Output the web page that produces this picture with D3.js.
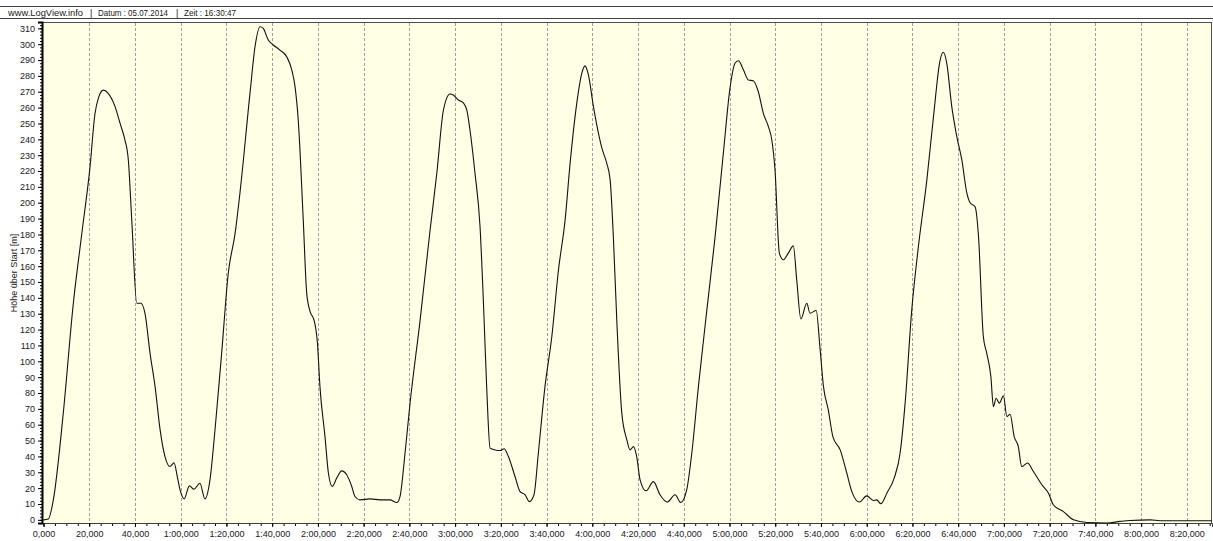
<!DOCTYPE html>
<html>
<head>
<meta charset="utf-8">
<script src="https://cdn.jsdelivr.net/npm/d3@7"></script>
<style>
  body { margin: 0; background: #fff; }
  svg { display: block; font-family: "Liberation Sans", Arial, sans-serif; }
</style>
</head>
<body>
<div id="chart-area"></div>
<script>
// DATA --------------------------------------------------------
var headerParts = ["www.LogView.info", "|", "Datum : 05.07.2014", "|", "Zeit : 16:30:47"];
var yTitle = "Höhe über Start [m]";

// time in seconds
var timeSec = [0, 2.1, 4.3, 8.7, 13, 16.7, 20.3, 22.5, 24, 26.2, 28.3, 31.3, 33.5, 35.6, 37.1, 38.6, 40.8, 42.6, 44.4, 46.6,
  48.8, 51, 53.1, 55.3, 57.1, 58.5, 59.7, 61.5, 63.8, 65.8, 68.4, 70.6, 72.8, 75, 77.9, 80.8, 83.8, 85.9, 90.3, 92.5,
  94.7, 96.1, 98.3, 100.5, 103.4, 106.4, 108.6, 110, 111.4, 113.6, 115.1, 116.6, 118.3, 119.8, 120.9, 123.1, 124.6, 126.3, 128.2, 130.4,
  132.6, 134.8, 136.2, 138.4, 142.8, 147.2, 151.5, 154.5, 155.9, 158.1, 160.3, 164.7, 169, 172, 174.9, 177.8, 179.2, 181.4, 183.6, 185.1,
  186.5, 188.7, 190.9, 192.4, 193.8, 195.3, 197.5, 199.7, 201.4, 203.3, 206.2, 208.4, 210.6, 212.5, 214.5, 216.4, 219.3, 222.3, 225.2, 228.1,
  230.3, 233.2, 235.4, 236.8, 238.3, 240.5, 242.7, 244.2, 246.3, 247.8, 249.2, 250.7, 252.9, 255.1, 256.5, 258, 259.4, 260.9, 263.5, 266.7,
  269.6, 272.8, 276.2, 278.7, 281.3, 283.5, 286.4, 290.1, 293.7, 297.3, 300.3, 302.4, 303.9, 306.1, 308.3, 310.4, 312.6, 314.8, 317, 318.5,
  319.9, 321.8, 323.6, 325.7, 327.9, 329.4, 331.2, 333.8, 335.2, 337.9, 339.6, 341.1, 343.2, 345.2, 348.4, 351.3, 353.5, 356.8, 360, 362.9,
  364.4, 366.2, 368.8, 372, 374.6, 376.8, 379.7, 382.6, 386.3, 389.2, 392.1, 393.5, 395, 397.2, 399.4, 401.6, 403.8, 405.2, 407.4, 408.9,
  411, 412.5, 414.3, 415.4, 416.6, 418, 419.8, 421.3, 422.7, 424.5, 426.3, 427.8, 430.3, 432.9, 436.6, 439.5, 441.6, 446, 450.4, 456.3,
  465, 470.8, 475.2, 484, 488.3, 494.1, 511];

// height above start in metres
var heightM = [0, 0.5, 12.6, 68, 136, 180, 222, 256, 266, 271, 269, 260.6, 250, 239.6, 227, 189, 136.6, 136.6, 130, 105,
  84, 56.7, 40, 33.6, 36, 27.3, 19, 13.2, 21.4, 19.3, 23.1, 13.2, 25.2, 56.7, 105, 155.5, 180.8, 206, 269, 298.4,
  311, 310, 302.6, 299.5, 296.3, 292, 283.7, 273.2, 252.2, 189, 143, 131.3, 126, 111.4, 84, 52.5, 29.4, 21, 26.3, 30.9,
  28.4, 21, 14.7, 12.6, 13.2, 12.6, 12.6, 10.9, 14.7, 42, 73.6, 126, 182, 218.6, 258.5, 268.6, 268, 264.8, 263, 258.5,
  245.9, 218.6, 185, 136.6, 84, 45.2, 44.1, 43.7, 44.8, 40, 27.3, 17.8, 15.8, 11.5, 15.8, 42, 84, 115.6, 157.6, 189,
  225, 262.7, 281.6, 286.3, 280.6, 260.6, 243.8, 234.4, 225, 214.4, 178.6, 126, 67.3, 50.4, 44.1, 46.2, 40, 25.2, 18.3, 24.1,
  15.8, 11.2, 15.8, 10.9, 19, 42, 84, 132.4, 178.6, 231.2, 273.2, 288, 289.6, 283.7, 277.4, 277, 270, 256.4, 248, 239.6,
  220.7, 168.2, 164, 168.2, 172.8, 151.3, 126.7, 136.6, 130.3, 132, 108, 84, 69.4, 52.5, 44.1, 29.4, 17.8, 11.2, 15.1, 12.2,
  12.6, 10.1, 16.8, 26.3, 42, 73.6, 132.4, 172.3, 214.4, 254.3, 290, 294.9, 288, 260.6, 241.7, 227, 206, 200, 197.5, 178.6,
  115.6, 105, 90.4, 71.4, 76.7, 73.6, 78.2, 65.1, 66.6, 52.5, 46.2, 33.6, 35.8, 30.5, 22.1, 16.8, 9.5, 5.2, 0, -1.7,
  -2, -1, -0.4, 0, -0.6, -0.6, -0.6];

var xTicks = d3.range(0, 501, 20);
var yTicks = d3.range(0, 311, 10);

// LAYOUT ------------------------------------------------------
var W = 1213, H = 541;
var plot = { left: 42, right: 1212, top: 22, bottom: 523 };

var svg = d3.select("#chart-area").append("svg")
    .attr("width", W)
    .attr("height", H);

// HEADER ------------------------------------------------------
svg.append("line").attr("x1", 0).attr("x2", W).attr("y1", 6.5).attr("y2", 6.5)
    .attr("stroke", "#404040");
svg.append("line").attr("x1", 0).attr("x2", W).attr("y1", 18.5).attr("y2", 18.5)
    .attr("stroke", "#404040");
var headerX = [8, 90, 98, 176, 184];
var headerLen = [75, null, 70, null, 52];
headerParts.forEach((p, i) => {
    var t = svg.append("text")
        .attr("x", headerX[i])
        .attr("y", 15.5)
        .attr("font-size", "9px")
        .attr("fill", "#202020")
        .text(p);
    if (headerLen[i]) t.attr("textLength", headerLen[i]).attr("lengthAdjust", "spacingAndGlyphs");
});

// SCALES ------------------------------------------------------
var x = d3.scaleLinear().domain([0, 511]).range([43.5, plot.right]);
var y = d3.scaleLinear().domain([-2, 314]).range([plot.bottom, plot.top]);

// PLOT BACKGROUND ---------------------------------------------
svg.append("rect")
    .attr("x", plot.left + 0.5).attr("y", plot.top + 0.5)
    .attr("width", plot.right - plot.left - 1).attr("height", plot.bottom - plot.top)
    .attr("fill", "#ffffe6")
    .attr("stroke", "#505050");

// GRID --------------------------------------------------------
svg.append("g").selectAll("line")
    .data(xTicks.filter(d => d > 0))
    .join("line")
    .attr("x1", d => Math.round(x(d)) + 0.5)
    .attr("x2", d => Math.round(x(d)) + 0.5)
    .attr("y1", plot.top + 1)
    .attr("y2", plot.bottom)
    .attr("stroke", "#a0a0a0")
    .attr("stroke-dasharray", "3,2");

// AXES --------------------------------------------------------
var fmtTime = function(s) {
    var m = Math.floor(s / 60), sec = s % 60;
    var secStr = (m > 0 && sec < 10 ? "0" : "") + sec + ",000";
    return m > 0 ? m + ":" + secStr : secStr;
};

var xMinor = svg.append("g")
    .attr("transform", "translate(0," + plot.bottom + ")")
    .call(d3.axisBottom(x).tickValues(d3.range(0, 511, 5)).tickSize(3).tickFormat(""));
xMinor.select(".domain").remove();

var xAxis = svg.append("g")
    .attr("transform", "translate(0," + plot.bottom + ")")
    .call(d3.axisBottom(x).tickValues(xTicks).tickSize(4).tickPadding(4).tickFormat(fmtTime));
xAxis.select(".domain").attr("stroke", "#404040");

var yMinor = svg.append("g")
    .attr("transform", "translate(" + (plot.left) + ",0)")
    .call(d3.axisLeft(y).tickValues(d3.range(0, 313, 2)).tickSize(2).tickFormat(""));
yMinor.select(".domain").remove();

var yAxis = svg.append("g")
    .attr("transform", "translate(" + (plot.left) + ",0)")
    .call(d3.axisLeft(y).tickValues(yTicks).tickSize(4).tickPadding(3));
yAxis.select(".domain").attr("stroke", "#000").attr("stroke-width", 2);

svg.selectAll(".tick text")
    .attr("font-size", "9px")
    .attr("font-family", "'Liberation Sans', Arial, sans-serif")
    .attr("fill", "#202020");

// Y axis title
svg.append("text")
    .attr("transform", "translate(17," + 273 + ") rotate(-90)")
    .attr("text-anchor", "middle")
    .attr("font-size", "9px")
    .attr("fill", "#202020")
    .text(yTitle);

// LINE --------------------------------------------------------
var points = timeSec.map((t, i) => [t, heightM[i]]);
var line = d3.line()
    .x(d => x(d[0]))
    .y(d => y(d[1]))
    .curve(d3.curveMonotoneX);

svg.append("path")
    .datum(points)
    .attr("d", line)
    .attr("fill", "none")
    .attr("stroke", "#111")
    .attr("stroke-width", 1.1);
</script>
</body>
</html>
